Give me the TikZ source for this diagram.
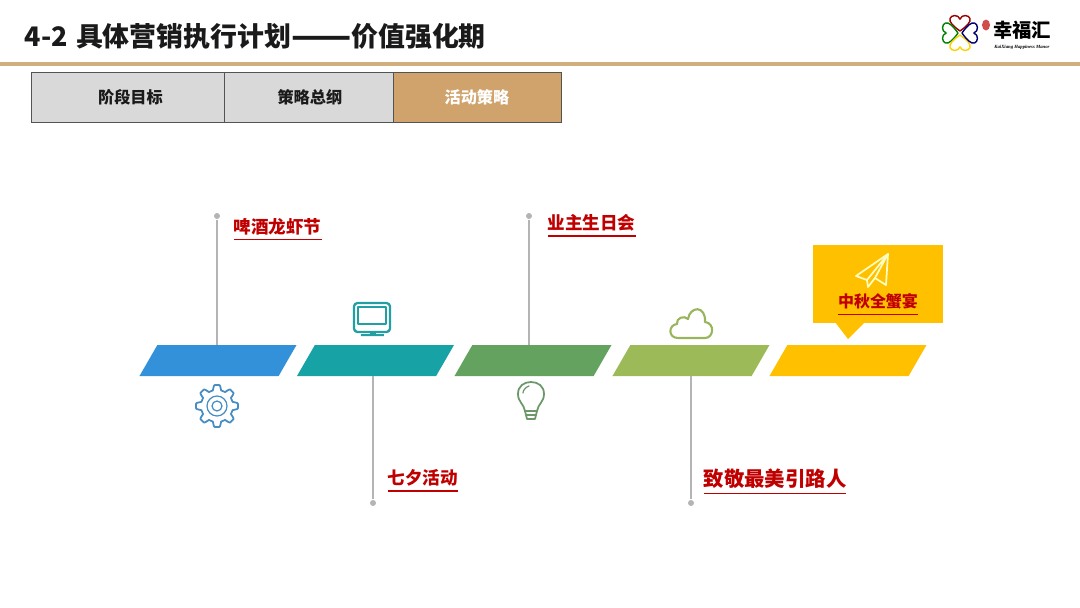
\documentclass[tikz,border=0pt]{standalone}
\usepackage{fontspec}
\usepackage{xcolor}
\setmainfont{Noto Sans CJK SC}
\newfontfamily\logofont{Liberation Serif}
\usetikzlibrary{positioning,shapes.geometric}
\definecolor{ink}{HTML}{1A1A1A}
\definecolor{rule}{HTML}{D2AE7E}
\definecolor{tabgrey}{HTML}{D9D9D9}
\definecolor{tabgold}{HTML}{CFA36B}
\definecolor{stemgrey}{HTML}{B4B4B4}
\definecolor{redlab}{HTML}{C00000}
\definecolor{segblue}{HTML}{3391D9}
\definecolor{segteal}{HTML}{17A2A6}
\definecolor{seggreen}{HTML}{63A25F}
\definecolor{seglime}{HTML}{9CBB58}
\definecolor{segyellow}{HTML}{FFC000}
\tikzset{
  tabbox/.style={draw=ink!75, line width=0.22pt, fill=tabgrey, minimum height=5mm, inner sep=0pt, outer sep=0pt, font=\fontsize{4.6pt}{5pt}\selectfont\bfseries, text=ink},
  seg/.style={trapezium, trapezium left angle=82.3, trapezium right angle=97.7, trapezium stretches=true, minimum width=15.7mm, minimum height=3.1mm, inner sep=0pt, outer sep=0pt, font=\fontsize{3pt}{3pt}\selectfont},
  stemdot/.style={circle, fill=stemgrey, inner sep=0pt, minimum size=0.6mm},
  stem/.style={draw=stemgrey, line width=0.4pt},
  lab/.style={text=redlab, anchor=west, inner sep=0pt, font=\fontsize{5pt}{6pt}\selectfont\bfseries},
  iconline/.style={line width=0.5pt, line join=round, line cap=round},
}
\begin{document}
\begin{tikzpicture}[x=0.1mm,y=-0.1mm]
  \useasboundingbox (0,0) rectangle (1080,608);
  \node[anchor=west, inner sep=0pt, text=ink, font=\fontsize{7.65pt}{9pt}\selectfont\bfseries] (title) at (24,36) {4-2\hspace{0.6pt} 具体营销执行计划\raisebox{-0.7pt}{\fontsize{10pt}{10pt}\selectfont ——}价值强化期};
  \fill[rule] (0,62) rectangle (1080,66);

  \node[tabbox, anchor=west, minimum width=19.3mm] (tabA) at (31,97) {\hspace{1.7pt}阶段目标};
  \node[tabbox, minimum width=16.9mm, right=0pt of tabA] (tabB) {\hspace{0.8pt}策略总纲};
  \node[tabbox, minimum width=16.8mm, right=0pt of tabB, fill=tabgold, text=white] (tabC) {活动策略};

  \foreach \ang/\col in {0/red!60!black, 90/green!50!black, 180/yellow!70!orange, 270/blue!45!black}
    \draw[\col, line width=0.4pt, rotate around={\ang:(960,33)}] (960,31) .. controls (953,26) and (949,22) .. (950,18.5) .. controls (951,15) and (958,14) .. (960,19) .. controls (962,14) and (969,15) .. (970,18.5) .. controls (971,22) and (967,26) .. (960,31);
  \fill[redlab!70] (986,25) ellipse (4 and 5.5);
  \node[inner sep=0pt, text=black, font=\fontsize{5.5pt}{6pt}\selectfont\bfseries] (logoname) at (1022,30) {幸福汇};
  \node[inner sep=0pt, text=black, font=\logofont\fontsize{1.35pt}{2pt}\selectfont\bfseries\itshape] (logosub) at (1022,47) {KaiXiang Happiness Manor};

  \node[seg, fill=segblue] (segA) at (218,360.5) {\phantom{x}};
  \node[seg, fill=segteal] (segB) at (375.5,360.5) {\phantom{x}};
  \node[seg, fill=seggreen] (segC) at (533,360.5) {\phantom{x}};
  \node[seg, fill=seglime] (segD) at (691,360.5) {\phantom{x}};
  \node[seg, fill=segyellow] (segE) at (848,360.5) {\phantom{x}};

  \node[stemdot] (dotA) at (217,216) {};
  \node[stemdot] (dotB) at (373,503) {};
  \node[stemdot] (dotC) at (529,216) {};
  \node[stemdot] (dotD) at (691,503) {};
  \draw[stem] (dotA) -- (dotA |- segA.north);
  \draw[stem] (dotB) -- (dotB |- segB.south);
  \draw[stem] (dotC) -- (dotC |- segC.north);
  \draw[stem] (dotD) -- (dotD |- segD.south);

  \node[lab] (labA) at (233,230) {\underline{啤酒龙虾节}};
  \node[lab] (labB) at (387,481) {\underline{七夕活动}};
  \node[lab] (labC) at (547,226) {\underline{业主生日会}};
  \node[lab, font=\fontsize{5.8pt}{7pt}\selectfont\bfseries] (labD) at (703,482) {\underline{致敬最美引路人}};

  \node[rectangle, fill=segyellow, minimum width=13mm, minimum height=7.8mm, inner sep=0pt] (callE) at (878,284) {};
  \fill[segyellow] (835,322) -- (848,339) -- (865,322) -- cycle;
  \node[lab, anchor=center, font=\fontsize{4.55pt}{6pt}\selectfont\bfseries] (labE) at (878,305) {\underline{中秋全蟹宴}};
  \draw[iconline, draw=yellow!25] (888,254) -- (856,276) -- (867,280) -- (868,287) -- (875,278) -- (886,285) -- cycle;
  \draw[iconline, draw=yellow!25] (888,254) -- (867,280) (888,254) -- (875,278);

  \draw[iconline, draw=segblue!75!gray, shift={(217,406)}] plot[smooth cycle, domain=0:358, samples=180] (\x:{18.5+2.5*max(-1,min(1,2*cos(8*\x)))});
  \draw[iconline, draw=segblue!75!gray, line width=0.35pt] (217,406) circle (10) (217,406) circle (5);

  \draw[iconline, draw=segteal!90!gray, line width=0.65pt, rounded corners=1] (354,303) rectangle (390,332);
  \draw[iconline, draw=segteal!90!gray] (358,307) rectangle (386,324);
  \fill[segteal!90!gray] (370,332) rectangle (376,334) (361,334) rectangle (384,336);

  \draw[iconline, draw=seggreen!70!gray] (525,411) .. controls (524,404) and (518,402) .. (518,394) .. controls (518,386) and (524,382) .. (531,382) .. controls (538,382) and (544,386) .. (544,394) .. controls (544,402) and (538,404) .. (537,411) -- cycle;
  \draw[iconline, draw=seggreen!70!gray] (526,415) -- (536,415) (527,419) -- (535,419) (525,411) -- (527,419) (537,411) -- (535,419);
  \draw[iconline, draw=seggreen!70!gray, line width=0.35pt] (523,393) .. controls (523,390) and (526,387) .. (529,386);

  \draw[iconline, draw=seglime!90!gray, line width=0.6pt] (678,338) .. controls (668,338) and (668,325) .. (677,324) .. controls (676,318) and (684,315) .. (688,319) .. controls (690,306) and (706,305) .. (705,322) .. controls (715,323) and (714,338) .. (705,338) -- cycle;
\end{tikzpicture}
\end{document}
